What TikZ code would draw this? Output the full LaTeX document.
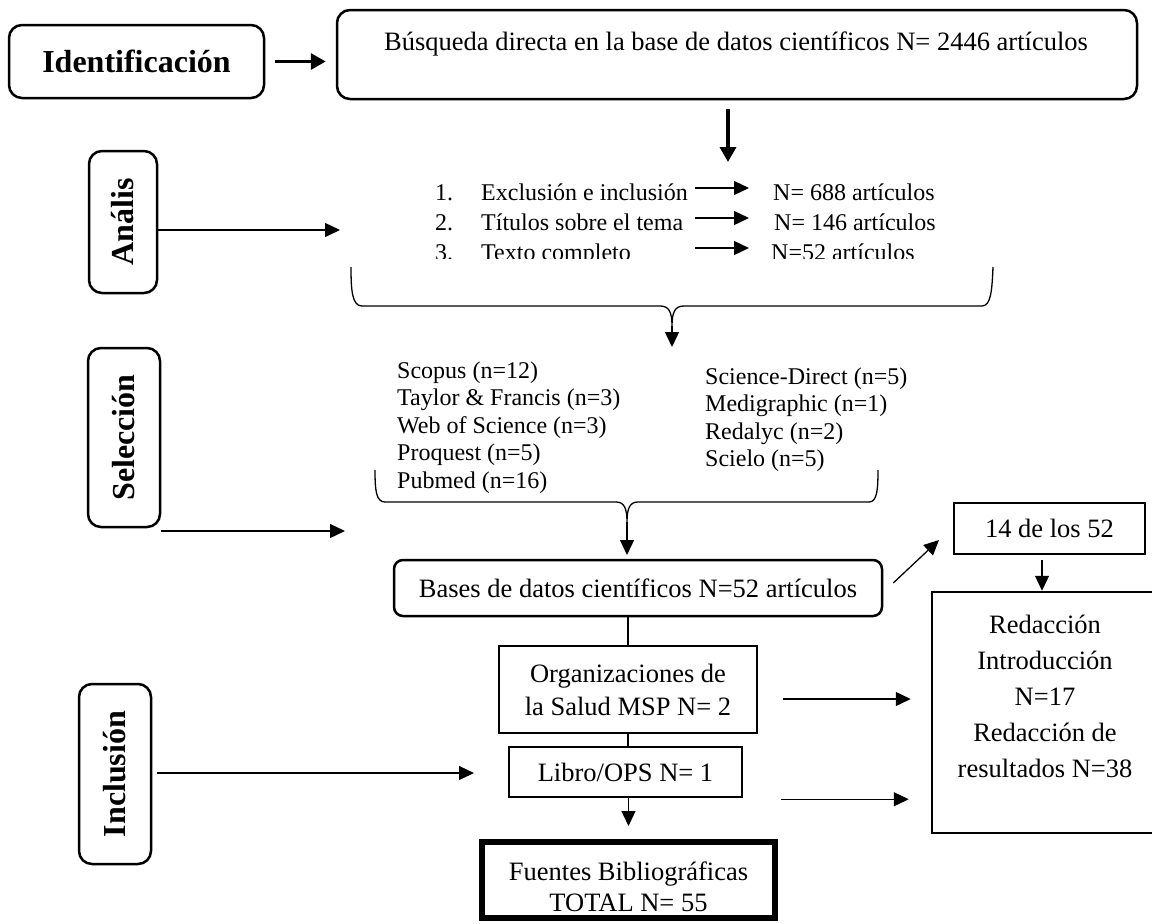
\documentclass[tikz,border=0pt]{standalone}
\usepackage{fontspec}
\setmainfont{Liberation Serif}
\usepackage{graphicx}
\usetikzlibrary{arrows.meta}
\tikzset{
  rbox/.style={draw, line width=2.5pt, rounded corners=13pt, inner sep=0pt},
  sbox/.style={draw, line width=2.5pt, inner sep=0pt},
  big/.style={font=\fontsize{26.5}{36}\selectfont, inner sep=0pt},
  lst/.style={font=\fontsize{24}{28}\selectfont, inner sep=0pt, anchor=base west},
  lbl/.style={font=\fontsize{32}{36}\selectfont\bfseries},
  tarrow/.style={line width=1.3pt, -{Triangle[length=15pt,width=14pt]}},
  karrow/.style={line width=3.5pt, -{Triangle[length=15pt,width=16pt]}},
  brace/.style={line width=1.3pt, line join=round},
  plain/.style={line width=1.3pt}
}
\begin{document}
\begin{tikzpicture}[x=1pt,y=-1pt]
\useasboundingbox (0,0) rectangle (1152,924);

% Identificacion row
\node[rbox, lbl, minimum width=255pt, minimum height=73pt] (idf) at (136.5,61.5) {Identificación};
\node[rbox, minimum width=800pt, minimum height=89pt] (busq) at (737,54.5) {};
\node[big] (busqT) at (736,44) {Búsqueda directa en la base de datos científicos N= 2446 artículos};
\draw[karrow, shorten <=10pt, shorten >=10pt] (idf.east) -- (idf.east -| busq.west);
\coordinate (d1) at (728,162);
\draw[karrow, shorten <=9pt] (d1 |- busq.south) -- (d1);

% Analisis
\node[rbox, lbl, minimum width=68pt, minimum height=142pt] (anal) at (123,222) {\rotatebox{90}{Anális}};
\coordinate (analT) at (340,230);
\draw[tarrow] (anal.east |- analT) -- (analT);

\begin{scope}
\clip (0,0) rectangle (1152,258.5);
\node[lst] (n1) at (435,200) {1.};
\node[lst] (t1) at (481,200) {Exclusión e inclusión};
\node[lst] (r1) at (773,200) {N= 688 artículos};
\node[lst] (n2) at (435,230) {2.};
\node[lst] (t2) at (481,230) {Títulos sobre el tema};
\node[lst] (r2) at (774,230) {N= 146 artículos};
\node[lst] (n3) at (435,260) {3.};
\node[lst] (t3) at (481,260) {Texto completo};
\node[lst] (r3) at (771,260) {N=52 artículos};
\end{scope}
\coordinate (la1) at (695,188);
\coordinate (la2) at (695,218);
\coordinate (la3) at (695,248);
\draw[tarrow, shorten >=24pt] (la1) -- (la1 -| r1.west);
\draw[tarrow, shorten >=25pt] (la2) -- (la2 -| r2.west);
\draw[tarrow, shorten >=22pt] (la3) -- (la3 -| r3.west);

% brace 1
\draw[brace] (351,267) .. controls (351,290) and (352,306) .. (362,306) -- (660,306)
  .. controls (669,306) and (672,312) .. (672,326)
  .. controls (672,312) and (675,306) .. (684,306) -- (982,306)
  .. controls (991,306) and (992,290) .. (993,267);
\coordinate (c1) at (672,326);
\coordinate (c1t) at (672,347);
\draw[tarrow] (c1) -- (c1t);

% Seleccion
\node[rbox, lbl, minimum width=72pt, minimum height=179pt] (sel) at (124,437.5) {\rotatebox{90}{Selección}};
\coordinate (selT) at (345,531);
\draw[tarrow] (selT -| sel.east) -- (selT);

\node[lst] (s1) at (397,378) {Scopus (n=12)};
\node[lst] (s2) at (397,405.5) {Taylor \& Francis (n=3)};
\node[lst] (s3) at (397,433) {Web of Science (n=3)};
\node[lst] (s4) at (397,460.5) {Proquest (n=5)};
\node[lst] (s5) at (397,488) {Pubmed (n=16)};
\node[lst] (s6) at (705,384) {Science-Direct (n=5)};
\node[lst] (s7) at (705,411.5) {Medigraphic (n=1)};
\node[lst] (s8) at (705,439) {Redalyc (n=2)};
\node[lst] (s9) at (705,466.5) {Scielo (n=5)};

% brace 2
\draw[brace] (375,470) .. controls (375,490) and (376,502) .. (385,502) -- (616,502)
  .. controls (624,502) and (627,508) .. (627,522)
  .. controls (627,508) and (630,502) .. (638,502) -- (869,502)
  .. controls (877,502) and (878,490) .. (878,470);
\coordinate (c2) at (627,522);
\coordinate (c2t) at (627,555);
\draw[tarrow] (c2) -- (c2t);

% central column
\node[rbox, big, rounded corners=9pt, minimum width=488pt, minimum height=56pt] (bases) at (638,588) {Bases de datos científicos N=52 artículos};
\node[sbox, big, font=\fontsize{26.5}{33}\selectfont, align=center, minimum width=258pt, minimum height=87pt] (org) at (628,689.5) {Organizaciones de\\la Salud MSP N= 2};
\node[sbox, big, minimum width=233pt, minimum height=50pt] (libro) at (625.5,772) {Libro/OPS N= 1};
\node[draw, line width=6pt, minimum width=293pt, minimum height=76pt] (fuen) at (628.5,880) {};
\node[big, font=\fontsize{26.5}{31}\selectfont, align=center] (fuenT) at (628.5,887) {Fuentes Bibliográficas\\TOTAL N= 55};

\draw[plain] (org.north) -- (org.north |- bases.south);
\draw[plain] (org.south) -- (org.south |- libro.north);
\draw[tarrow, shorten >=13pt] (fuen.north |- libro.south) -- (fuen.north);

% Inclusion
\node[rbox, lbl, minimum width=72pt, minimum height=180pt] (incl) at (115,774) {\rotatebox{90}{Inclusión}};
\coordinate (inclT) at (474,773);
\draw[tarrow, shorten <=5pt] (inclT -| incl.east) -- (inclT);

% right side
\node[sbox, big, minimum width=191pt, minimum height=51pt] (fourteen) at (1049.5,528.5) {14 de los 52};
\node[sbox, minimum width=228pt, minimum height=241pt] (redac) at (1046,712.5) {};
\node[big, align=center] (redacT) at (1045,696) {Redacción\\Introducción\\N=17\\Redacción de\\resultados N=38};

\coordinate (diagT) at (939,540);
\draw[tarrow] ([shift={(10pt,5pt)}]bases.east) -- (diagT);
\draw[tarrow, shorten <=5pt] ([xshift=-7.5pt]fourteen.south) -- ([xshift=-7.5pt]fourteen.south |- redac.north);
\draw[tarrow, shorten <=25pt, shorten >=20pt] ([yshift=-9.5pt]org.east) -- ([yshift=-9.5pt]org.east -| redac.west);
\draw[tarrow, shorten <=38pt, shorten >=22pt] ([yshift=-1pt]libro.south east) -- ([yshift=-1pt]libro.south east -| redac.west);
\end{tikzpicture}
\end{document}
